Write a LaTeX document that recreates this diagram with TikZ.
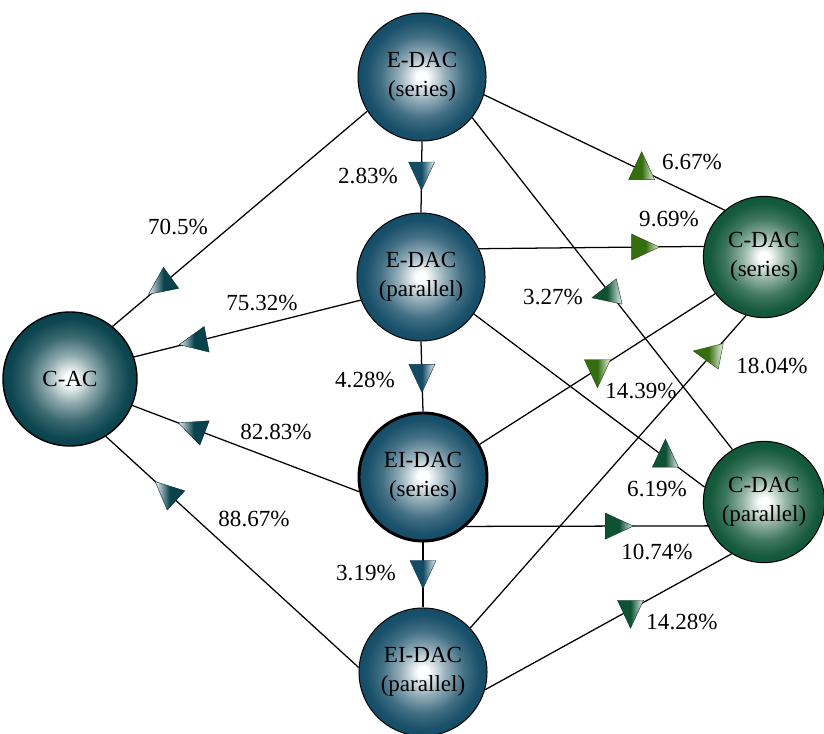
\documentclass[tikz,border=0pt]{standalone}
\usepackage{fontspec}
\setmainfont{Liberation Serif}
\usetikzlibrary{calc}
\definecolor{edac}{RGB}{20,76,102}
\definecolor{cac}{RGB}{8,66,76}
\definecolor{cdac}{RGB}{16,86,56}
\definecolor{cser}{RGB}{52,110,14}
\definecolor{cpar}{RGB}{14,82,52}
\pgfdeclareradialshading{edacball}{\pgfpointorigin}{color(0bp)=(white); color(2bp)=(white); color(9bp)=(edac!45); color(16bp)=(edac!80); color(22bp)=(edac!97); color(25bp)=(edac); color(50bp)=(edac)}
\pgfdeclareradialshading{cacball}{\pgfpointorigin}{color(0bp)=(white); color(2bp)=(white); color(9bp)=(cac!45); color(16bp)=(cac!80); color(22bp)=(cac!97); color(25bp)=(cac); color(50bp)=(cac)}
\pgfdeclareradialshading{cdacball}{\pgfpointorigin}{color(0bp)=(white); color(2bp)=(white); color(9bp)=(cdac!45); color(16bp)=(cdac!80); color(22bp)=(cdac!97); color(25bp)=(cdac); color(50bp)=(cdac)}
\tikzstyle{ball}=[circle, draw=black, line width=0.7pt, minimum size=3.2cm,
  inner sep=0pt, align=center, font=\fontsize{16.4}{20.5}\selectfont]
\tikzstyle{eball}=[ball, shading=edacball]
\tikzstyle{lbl}=[inner sep=0pt, font=\fontsize{16.4}{20}\selectfont]
\tikzstyle{conn}=[line width=0.9pt, draw=black]
\tikzset{fwd/.style={draw=#1!70!black, line width=0.3pt, left color=#1, right color=#1!8, middle color=#1},
  bwd/.style={draw=#1!70!black, line width=0.3pt, left color=#1!8, right color=#1, middle color=#1}}
\newcommand{\midtri}[3]{\path[#3] ($(#1)+(#2:18.7)$) -- ($(#1)+(#2+180:9.3)+(#2+90:13)$)
  -- ($(#1)+(#2+180:9.3)+(#2-90:13)$) -- cycle;}

\begin{document}
\begin{tikzpicture}[x=0.025cm, y=0.025cm]
        \useasboundingbox (0,0) rectangle (824,733);
        \node[eball] (eser) at (422,656) {E-DAC\\(series)};
        \node[eball] (epar) at (421,456) {E-DAC\\(parallel)};
        \node[eball, line width=2.1pt] (eiser) at (423,256) {EI-DAC\\(series)};
        \node[eball] (eipar) at (423,61) {EI-DAC\\(parallel)};
        \node[ball, shading=cacball, line width=1pt, minimum size=3.35cm] (cac) at (70,354) {C-AC};
        \node[ball, shading=cdacball, minimum size=3.03cm] (cser) at (764,476) {C-DAC\\(series)};
        \node[ball, shading=cdacball, minimum size=3.03cm] (cpar) at (764,231) {C-DAC\\(parallel)};

        \draw[conn] (eser.212) -- coordinate[pos=.8] (t1) (cac.51);
        \draw[conn] (epar.201) -- coordinate[pos=.72] (t2) (cac.19);
        \draw[conn] (eiser.193) -- coordinate[pos=.72] (t3) (cac.-23);
        \draw[conn] (eipar.176) -- coordinate[pos=.75] (t4) (cac.-58);
        \draw[conn] (eser.south) -- coordinate[pos=.42] (t5) (epar.north);
        \draw[conn] (epar.south) -- coordinate[pos=.46] (t6) (eiser.north);
        \draw[conn] (eiser.south) -- coordinate[pos=.42] (t7) (eipar.north);
        \draw[conn] (eser.-16) -- coordinate[pos=.655] (t8) (cser.130);
        \draw[conn] (epar.26) -- coordinate[pos=.72] (t9) (cser.170);
        \draw[conn] (eser.-39) -- coordinate[pos=.53] (t10) (cpar.121);
        \draw[conn] (eiser.30) -- coordinate[pos=.5] (t11) (cser.217);
        \draw[conn] (eipar.43) -- coordinate[pos=.875] (t12) (cser.253);
        \draw[conn] (epar.-35) -- coordinate[pos=.83] (t13) (cpar.166);
        \draw[conn] (eiser.-49) -- coordinate[pos=.615] (t14) (cpar.203);
        \draw[conn] (eipar.-16) -- coordinate[pos=.59] (t15) (cpar.238);

        \midtri{t1}{216}{bwd=cac}
        \midtri{t2}{191}{bwd=cac}
        \midtri{t3}{159}{bwd=cac}
        \midtri{t4}{138}{bwd=cac}
        \midtri{t5}{270}{fwd=edac}
        \midtri{t6}{270}{fwd=edac}
        \midtri{t7}{270}{fwd=edac}
        \midtri{t8}{90}{fwd=cser}
        \midtri{t9}{0}{fwd=cser}
        \midtri{t10}{193}{fwd=cpar}
        \midtri{t11}{270}{fwd=cser}
        \midtri{t12}{169}{fwd=cser}
        \midtri{t13}{90}{fwd=cpar}
        \midtri{t14}{0}{fwd=cpar}
        \midtri{t15}{270}{fwd=cpar}

        \node[lbl] (l1) at (178,506) {70.5\%};
        \node[lbl] (l2) at (262,430) {75.32\%};
        \node[lbl] (l3) at (276,301) {82.83\%};
        \node[lbl] (l4) at (254,214) {88.67\%};
        \node[lbl] (l5) at (368,557) {2.83\%};
        \node[lbl] (l6) at (365,353) {4.28\%};
        \node[lbl] (l7) at (366,160) {3.19\%};
        \node[lbl] (l8) at (692,571) {6.67\%};
        \node[lbl] (l9) at (669,514) {9.69\%};
        \node[lbl] (l10) at (553,436) {3.27\%};
        \node[lbl] (l11) at (641,342) {14.39\%};
        \node[lbl] (l12) at (772,367) {18.04\%};
        \node[lbl] (l13) at (657,244) {6.19\%};
        \node[lbl] (l14) at (657,181) {10.74\%};
        \node[lbl] (l15) at (682,111) {14.28\%};
      \end{tikzpicture}
\end{document}
